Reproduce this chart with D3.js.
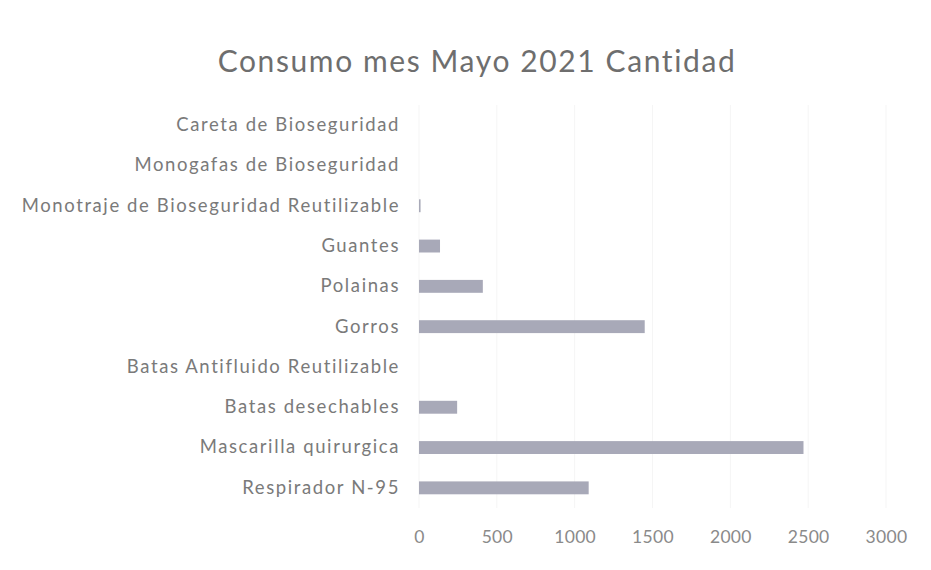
<!DOCTYPE html>
<html><head><meta charset="utf-8">
<script src="https://cdn.jsdelivr.net/npm/d3@7"></script>
<style>body{margin:0;background:#fff;}svg{display:block;}</style>
</head><body>
<script>
const categories = ["Respirador N-95","Mascarilla quirurgica","Batas desechables","Batas Antifluido Reutilizable","Gorros","Polainas","Guantes","Monotraje de Bioseguridad Reutilizable","Monogafas de Bioseguridad","Careta de Bioseguridad"];
const values = [1090, 2470, 245, 0, 1450, 410, 135, 10, 0, 0];
const xTicks = [0, 500, 1000, 1500, 2000, 2500, 3000];
const title = "Consumo mes Mayo 2021 Cantidad";

const W = 931, H = 570;
const svg = d3.select("body").append("svg").attr("width", W).attr("height", H);
const font = "Lato, 'Open Sans', sans-serif";

const x = d3.scaleLinear().domain([0, 3000]).range([419, 886]);
const y = d3.scaleBand().domain(categories).range([508, 105]).paddingInner(0.68).paddingOuter(0.34);

// faint gridlines
svg.append("g").selectAll("line").data(xTicks).join("line")
  .attr("x1", d => x(d)).attr("x2", d => x(d)).attr("y1", 105).attr("y2", 508)
  .attr("stroke", "#f5f5f5").attr("stroke-width", 1);

svg.append("g").selectAll("rect").data(categories).join("rect")
  .attr("x", x(0)).attr("y", d => y(d))
  .attr("width", (d, i) => x(values[i]) - x(0))
  .attr("height", y.bandwidth())
  .attr("fill", "#a8a9b8");

const yAxis = svg.append("g").attr("transform", "translate(419,0)")
  .call(d3.axisLeft(y).tickSize(0).tickPadding(19));
yAxis.select(".domain").remove();
yAxis.selectAll("text").attr("font-family", font).attr("font-size", 18.5)
  .attr("letter-spacing", 1.6).attr("fill", "#7a7a7a");

const xAxis = svg.append("g").attr("transform", "translate(0,527)")
  .call(d3.axisBottom(x).tickValues(xTicks).tickFormat(d3.format("d")).tickSize(0).tickPadding(4));
xAxis.select(".domain").remove();
xAxis.selectAll("text").attr("font-family", font).attr("font-size", 17.5)
  .attr("letter-spacing", 0.3).attr("fill", "#8a8a8a");

svg.append("text").attr("x", 477).attr("y", 72).attr("text-anchor", "middle")
  .attr("font-family", font).attr("font-size", 30).attr("letter-spacing", 1.6).attr("fill", "#6e6e6e")
  .text(title);
</script>
</body></html>
